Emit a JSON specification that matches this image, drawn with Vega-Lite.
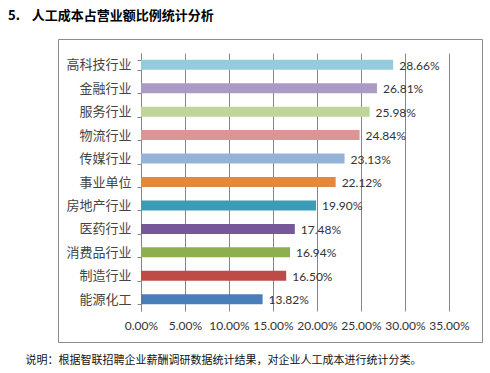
{
  "$schema": "https://vega.github.io/schema/vega-lite/v6.json",
  "autosize": "none",
  "width": 424,
  "height": 303,
  "padding": {"left": 58, "top": 39, "right": 8, "bottom": 31},
  "background": "white",
  "title": {
    "text": "5.\u00a0\u00a0\u00a0\u00a0人工成本占营业额比例统计分析",
    "anchor": "start",
    "frame": "group",
    "dx": -50,
    "offset": -3,
    "baseline": "bottom",
    "font": "Noto Sans CJK SC",
    "fontSize": 13,
    "fontWeight": "bold",
    "color": "#000000"
  },
  "config": {
    "view": {"stroke": "#8c8c8c", "strokeWidth": 1}
  },
  "data": {
    "values": [
      {"industry": "高科技行业", "ratio": 0.2866},
      {"industry": "金融行业", "ratio": 0.2681},
      {"industry": "服务行业", "ratio": 0.2598},
      {"industry": "物流行业", "ratio": 0.2484},
      {"industry": "传媒行业", "ratio": 0.2313},
      {"industry": "事业单位", "ratio": 0.2212},
      {"industry": "房地产行业", "ratio": 0.1990},
      {"industry": "医药行业", "ratio": 0.1748},
      {"industry": "消费品行业", "ratio": 0.1694},
      {"industry": "制造行业", "ratio": 0.1650},
      {"industry": "能源化工", "ratio": 0.1382}
    ]
  },
  "encoding": {
    "y": {
      "field": "industry",
      "type": "nominal",
      "sort": null,
      "scale": {"range": [14, 272], "paddingInner": 0.574, "paddingOuter": 0.287},
      "axis": {
        "title": null,
        "orient": "left",
        "offset": -83,
        "domainColor": "#868686",
        "tickColor": "#868686",
        "tickSize": 4,
        "tickBand": "extent",
        "labelPadding": 6,
        "labelFont": "Noto Sans CJK SC",
        "labelFontSize": 13,
        "labelColor": "#444444",
        "grid": false
      }
    }
  },
  "layer": [
    {
      "mark": {"type": "bar"},
      "encoding": {
        "x": {
          "field": "ratio",
          "type": "quantitative",
          "scale": {"domain": [0, 0.35], "range": [83, 391]},
          "axis": {
            "orient": "top",
            "title": null,
            "grid": true,
            "gridColor": "#868686",
            "gridWidth": 1,
            "domain": false,
            "ticks": false,
            "labels": false,
            "values": [0, 0.05, 0.1, 0.15, 0.2, 0.25, 0.3, 0.35]
          }
        },
        "color": {
          "field": "industry",
          "type": "nominal",
          "legend": null,
          "scale": {
            "domain": ["高科技行业", "金融行业", "服务行业", "物流行业", "传媒行业", "事业单位", "房地产行业", "医药行业", "消费品行业", "制造行业", "能源化工"],
            "range": ["#93CDDD", "#A99BC5", "#BFD59A", "#D99694", "#95B3D7", "#E3883D", "#3A9DB5", "#76589A", "#8DB04D", "#BE4B48", "#4A7EBB"]
          }
        }
      }
    },
    {
      "mark": {"type": "text", "align": "left", "baseline": "middle", "dx": 6, "dy": 1, "font": "Lato", "fontSize": 12, "color": "#333333"},
      "encoding": {
        "x": {
          "field": "ratio",
          "type": "quantitative",
          "axis": {
            "orient": "bottom",
            "offset": -31,
            "grid": false,
            "domain": false,
            "ticks": false,
            "tickSize": 0,
            "labelPadding": 9,
            "labelOverlap": false,
            "labelFlush": false,
            "labelBound": false,
            "format": ".2%",
            "values": [0, 0.05, 0.1, 0.15, 0.2, 0.25, 0.3, 0.35],
            "labelFont": "Lato",
            "labelFontSize": 12,
            "labelColor": "#333333",
            "title": "说明：根据智联招聘企业薪酬调研数据统计结果，对企业人工成本进行统计分类。",
            "titleX": -33,
            "titleY": 49,
            "titleAlign": "left",
            "titleAnchor": "start",
            "titleBaseline": "middle",
            "titleFont": "Noto Sans CJK SC",
            "titleFontSize": 11,
            "titleFontWeight": "normal",
            "titleColor": "#111111"
          }
        },
        "text": {"field": "ratio", "type": "quantitative", "format": ".2%"}
      }
    }
  ],
  "resolve": {"axis": {"x": "independent"}}
}
